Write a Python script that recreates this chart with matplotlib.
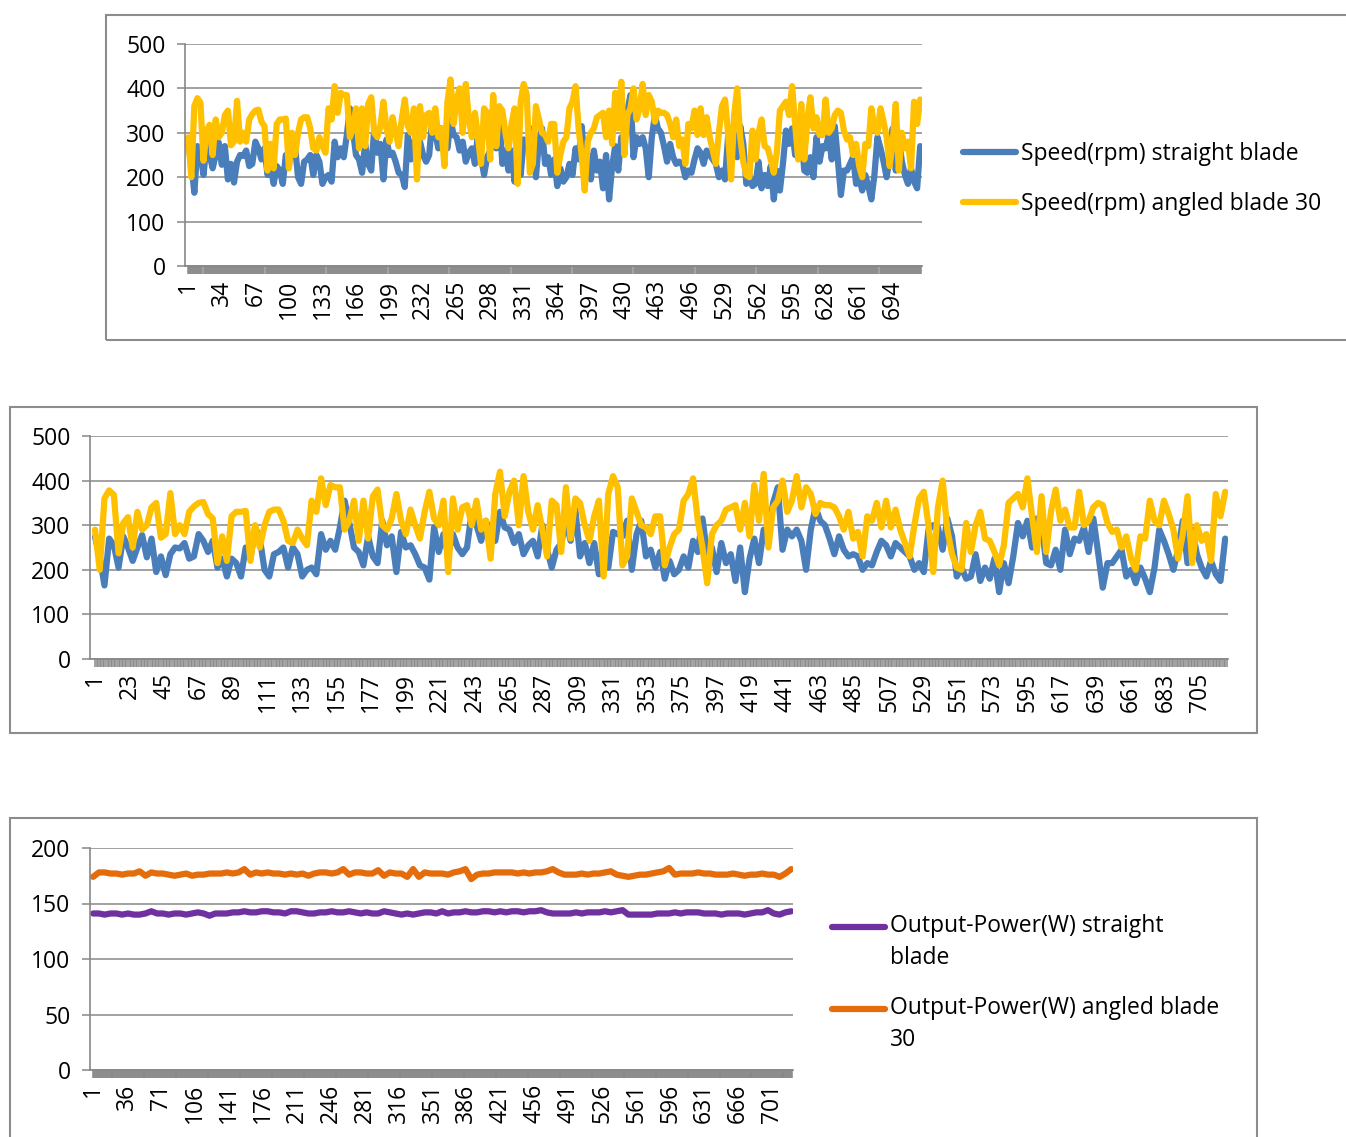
import numpy as np
import matplotlib
matplotlib.use('Agg')
import matplotlib.pyplot as plt
from matplotlib.patches import Rectangle
from matplotlib.lines import Line2D
from matplotlib.legend_handler import HandlerLine2D

plt.rcParams['font.family'] = ['Open Sans', 'DejaVu Sans']

# readings: 722 samples, speed read every 3rd sample, power every 6th
n_points = 722
speed_idx = np.arange(1, n_points, 3)
power_idx = np.arange(1, n_points, 6)

speed_straight = [
    274, 230, 165, 270, 255, 205, 275, 250, 220, 250, 278, 228, 270, 195, 230, 188, 235, 250, 248, 260,
    225, 230, 280, 265, 240, 265, 205, 225, 185, 225, 215, 185, 250, 225, 295, 270, 200, 185, 235, 240,
    250, 205, 250, 235, 185, 200, 205, 190, 280, 245, 265, 245, 295, 355, 305, 250, 240, 210, 275, 230,
    215, 310, 255, 275, 195, 285, 250, 255, 235, 210, 205, 178, 295, 240, 280, 235, 280, 250, 235, 250,
    330, 300, 265, 310, 280, 265, 330, 295, 290, 260, 280, 235, 255, 265, 230, 300, 245, 205, 245, 260,
    310, 265, 335, 230, 260, 215, 260, 190, 265, 205, 285, 280, 275, 310, 200, 280, 310, 230, 245, 205,
    240, 180, 220, 190, 200, 230, 205, 265, 240, 315, 235, 250, 195, 260, 215, 235, 175, 250, 150, 225,
    270, 215, 290, 275, 350, 385, 245, 290, 275, 290, 265, 200, 290, 340, 310, 300, 270, 235, 275, 245,
    230, 235, 230, 200, 215, 210, 240, 265, 255, 230, 260, 250, 240, 230, 200, 215, 195, 290, 300, 295,
    245, 315, 275, 185, 205, 180, 185, 235, 175, 205, 180, 225, 150, 215, 170, 230, 305, 275, 310, 250,
    315, 300, 215, 210, 245, 200, 290, 235, 270, 265, 295, 240, 315, 240, 160, 215, 215, 230, 245, 185,
    200, 170, 205, 180, 150, 205, 290, 265, 235, 200, 245, 310, 215, 290, 235, 205, 185, 220, 190, 175,
    270,
]
speed_angled = [
    290, 200, 360, 378, 368, 237, 305, 318, 250, 330, 290, 300, 340, 350, 272, 280, 372, 280, 300, 280,
    330, 342, 350, 352, 325, 315, 215, 275, 220, 320, 330, 330, 332, 220, 300, 250, 300, 330, 335, 335,
    310, 265, 260, 290, 270, 255, 355, 330, 405, 345, 390, 385, 385, 290, 310, 355, 265, 355, 270, 365,
    380, 300, 290, 315, 370, 310, 280, 335, 300, 270, 330, 375, 315, 300, 355, 195, 360, 290, 340, 345,
    300, 355, 290, 310, 225, 370, 420, 320, 375, 400, 300, 410, 330, 290, 345, 290, 230, 355, 345, 240,
    385, 270, 360, 350, 300, 265, 320, 355, 185, 370, 410, 385, 210, 230, 360, 330, 300, 295, 280, 320,
    320, 210, 250, 280, 290, 355, 370, 405, 310, 250, 170, 280, 300, 310, 335, 340, 345, 290, 350, 275,
    390, 310, 415, 250, 340, 355, 400, 330, 355, 410, 340, 385, 370, 325, 350, 345, 345, 340, 320, 290,
    330, 270, 285, 230, 320, 310, 350, 295, 355, 295, 335, 290, 260, 230, 300, 360, 375, 300, 195, 340,
    400, 290, 235, 205, 200, 305, 240, 300, 330, 270, 265, 240, 210, 255, 350, 360, 370, 340, 405, 320,
    240, 365, 240, 330, 380, 310, 335, 295, 295, 375, 300, 310, 340, 350, 345, 305, 285, 290, 250, 275,
    225, 200, 275, 270, 355, 310, 300, 355, 325, 290, 225, 280, 365, 215, 300, 265, 280, 220, 370, 320,
    375,
]
power_straight = [
    141, 141, 140, 141, 141, 140, 141, 140, 140, 141, 143, 141, 141, 140, 141, 141, 140, 141, 142, 141,
    139, 141, 141, 141, 142, 142, 143, 142, 142, 143, 143, 142, 142, 141, 143, 143, 142, 141, 141, 142,
    142, 143, 142, 142, 143, 142, 141, 142, 141, 141, 143, 142, 141, 140, 141, 140, 141, 142, 142, 141,
    143, 141, 142, 142, 143, 142, 142, 143, 143, 142, 143, 142, 143, 143, 142, 143, 143, 144, 142, 141,
    141, 141, 141, 142, 141, 142, 142, 142, 143, 142, 143, 144, 140, 140, 140, 140, 140, 141, 141, 141,
    142, 141, 142, 142, 142, 141, 141, 141, 140, 141, 141, 141, 140, 141, 142, 142, 144, 141, 140, 142,
    143,
]
power_angled = [
    174, 178, 178, 177, 177, 176, 177, 177, 179, 175, 178, 177, 177, 176, 175, 176, 177, 175, 176, 176,
    177, 177, 177, 178, 177, 178, 181, 176, 178, 177, 178, 177, 177, 176, 177, 176, 177, 175, 177, 178,
    178, 177, 178, 181, 176, 178, 178, 177, 177, 180, 175, 178, 177, 177, 174, 181, 174, 178, 177, 177,
    177, 176, 178, 179, 181, 172, 176, 177, 177, 178, 178, 178, 178, 177, 178, 177, 178, 178, 179, 181,
    178, 176, 176, 176, 177, 176, 177, 177, 178, 179, 176, 175, 174, 175, 176, 176, 177, 178, 179, 182,
    176, 177, 177, 177, 178, 177, 177, 176, 176, 176, 177, 176, 175, 176, 176, 177, 176, 176, 174, 177,
    181,
]

speed_labels = ['Speed(rpm) straight blade', 'Speed(rpm) angled blade 30']
power_labels = ['Output-Power(W) straight\nblade', 'Output-Power(W) angled blade\n30']

blue = '#4A7EBB'
yellow = '#FFC000'
purple = '#7030A0'
orange = '#E46C0A'
grey = '#878787'
font_size = 16.5

W, H = 1346, 1137
fig = plt.figure(figsize=(W / 100, H / 100), dpi=100)


def fx(px):
    return px / W


def fy(py):
    return 1 - py / H


class FirstLineHandler(HandlerLine2D):
    # put the legend line next to the first line of a wrapped label
    def __init__(self, shift, **kw):
        super().__init__(**kw)
        self.shift = shift

    def create_artists(self, legend, orig_handle, xdescent, ydescent, width, height, fontsize, trans):
        artists = super().create_artists(legend, orig_handle, xdescent, ydescent,
                                         width, height, fontsize, trans)
        for a in artists:
            a.set_ydata(np.asarray(a.get_ydata()) + self.shift)
        return artists


def frame(x0, y0, x1, y1):
    fig.patches.append(Rectangle((fx(x0), fy(y1)), fx(x1) - fx(x0), fy(y0) - fy(y1),
                                 transform=fig.transFigure, fill=False,
                                 edgecolor='#8c8c8c', lw=1.5))


def make_axes(x0, y0, x1, y1, ymax, ystep, tick_step):
    ax = fig.add_axes([fx(x0), fy(y1), fx(x1) - fx(x0), fy(y0) - fy(y1)])
    ax.set_ylim(0, ymax)
    ax.set_yticks(np.arange(0, ymax + 1, ystep))
    ax.set_xlim(-2.2, n_points + 0.8)
    ax.set_xticks(np.arange(1, n_points, tick_step))
    ax.set_xticks(np.arange(1, n_points + 1), minor=True)
    ax.tick_params(axis='x', which='both', length=6, width=1.1, color=grey,
                   labelrotation=90, labelsize=font_size, pad=4)
    ax.tick_params(axis='y', length=6, width=1.1, color=grey, labelsize=font_size, pad=8)
    ax.grid(axis='y', color=grey, lw=1.1)
    ax.set_axisbelow(True)
    for s in ['top', 'right']:
        ax.spines[s].set_visible(False)
    for s in ['left', 'bottom']:
        ax.spines[s].set_color(grey)
        ax.spines[s].set_linewidth(1.2)
    return ax


line_kw = dict(lw=4.5, solid_joinstyle='round', solid_capstyle='round')
legend_kw = dict(loc='center left', bbox_transform=fig.transFigure, frameon=False,
                 fontsize=font_size, handlelength=2.3, handletextpad=0.22,
                 labelspacing=1.1, borderpad=0, borderaxespad=0)

# top chart
frame(106, 15, 1360, 340)
ax1 = make_axes(185, 44, 922, 266, 500, 100, 33)
ax1.plot(speed_idx, speed_straight, color=blue, label=speed_labels[0], **line_kw)
ax1.plot(speed_idx, speed_angled, color=yellow, label=speed_labels[1], **line_kw)
ax1.legend(bbox_to_anchor=(fx(963), fy(179)), **legend_kw)

# middle chart
frame(10, 407, 1257, 733)
ax2 = make_axes(90, 436, 1228, 659, 500, 100, 22)
ax2.plot(speed_idx, speed_straight, color=blue, **line_kw)
ax2.plot(speed_idx, speed_angled, color=yellow, **line_kw)

# bottom chart
frame(10, 818, 1257, 1160)
ax3 = make_axes(90, 848, 793, 1070, 200, 50, 35)
ax3.plot(power_idx, power_straight, color=purple, label=power_labels[0], **line_kw)
ax3.plot(power_idx, power_angled, color=orange, label=power_labels[1], **line_kw)
leg3 = ax3.legend(bbox_to_anchor=(fx(832), fy(983)),
                  handler_map={Line2D: FirstLineHandler(11.5)}, **legend_kw)
for t in leg3.get_texts():
    t.set_linespacing(1.45)

fig.savefig('out.png', dpi=100)
